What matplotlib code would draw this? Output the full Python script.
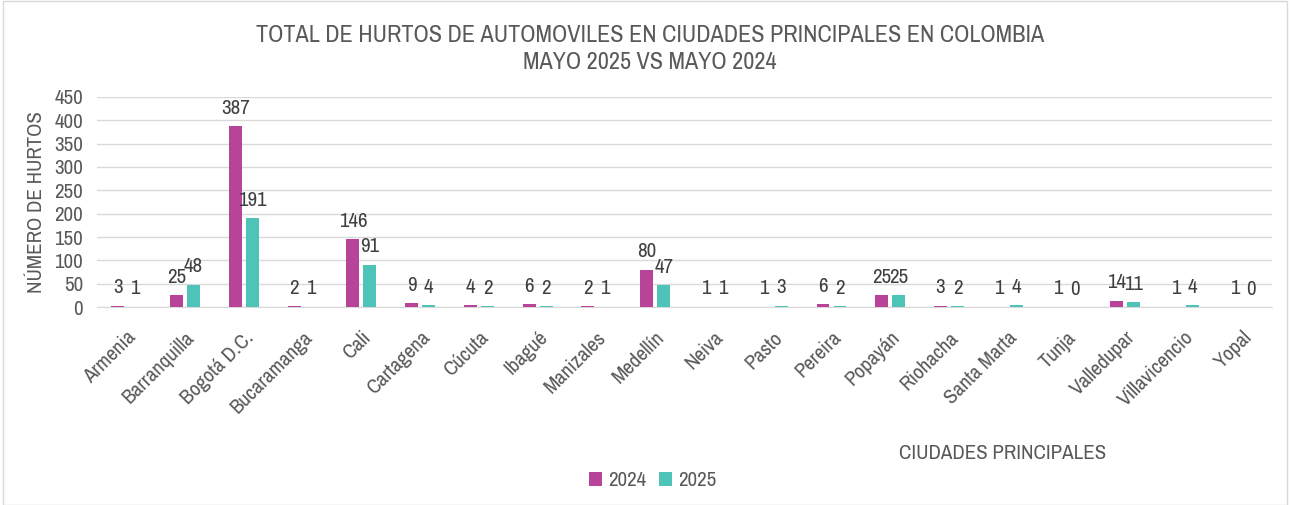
import matplotlib
matplotlib.use("Agg")
import matplotlib.pyplot as plt
import numpy as np
from matplotlib import font_manager
from matplotlib.patches import Rectangle

ciudades = ["Armenia", "Barranquilla", "Bogotá D.C.", "Bucaramanga", "Cali", "Cartagena",
            "Cúcuta", "Ibagué", "Manizales", "Medellín", "Neiva", "Pasto", "Pereira",
            "Popayán", "Riohacha", "Santa Marta", "Tunja", "Valledupar", "Villavicencio", "Yopal"]
hurtos_2024 = [3, 25, 387, 2, 146, 9, 4, 6, 2, 80, 1, 1, 6, 25, 3, 1, 1, 14, 1, 1]
hurtos_2025 = [1, 48, 191, 1, 91, 4, 2, 2, 1, 47, 1, 3, 2, 25, 2, 4, 0, 11, 4, 0]
y_ticks = [0, 50, 100, 150, 200, 250, 300, 350, 400, 450]

GRIS = "#595959"
C24 = "#B8449A"
C25 = "#4EC4B9"

# use a narrow font if there is one, the original looks like Arial Narrow
narrow = [f.name for f in font_manager.fontManager.ttflist
          if "Narrow" in f.name or "Condensed" in f.name]
fams = ['Liberation Sans', 'DejaVu Sans']
if narrow:
    fams = [sorted(narrow)[0]] + fams
plt.rcParams['font.family'] = fams
k = 1.16 if narrow else 0.93

fig = plt.figure(figsize=(12.9, 5.05), dpi=100)
ax = fig.add_axes([0.0752, 0.392, 0.911, 0.416])

x = np.arange(len(ciudades))
w = 0.22
off = 0.145
b1 = ax.bar(x - off, hurtos_2024, w, color=C24, label="2024", zorder=3)
b2 = ax.bar(x + off, hurtos_2025, w, color=C25, label="2025", zorder=3)

for bars in (b1, b2):
    for r in bars:
        h = r.get_height()
        ax.annotate(str(int(h)), (r.get_x() + r.get_width() / 2, h), xytext=(0, 6),
                    textcoords="offset points", ha="center", va="bottom",
                    fontsize=13 * k, color="#404040")

ax.set_xlim(-0.5, len(ciudades) - 0.5)
ax.set_ylim(0, 450)
ax.set_yticks(y_ticks)
ax.yaxis.grid(True, color="#d9d9d9", linewidth=1, zorder=0)
ax.set_axisbelow(True)
for s in ["top", "right", "left"]:
    ax.spines[s].set_visible(False)
ax.spines["bottom"].set_color("#d9d9d9")
ax.tick_params(axis="both", length=0, colors=GRIS, labelsize=13 * k)
ax.tick_params(axis="y", pad=10)
ax.set_xticks(x)
ax.set_xticklabels(ciudades, rotation=45, ha="right", rotation_mode="anchor")
ax.tick_params(axis="x", pad=15)

ax.set_ylabel("NÚMERO DE HURTOS", fontsize=13 * k, color=GRIS, labelpad=6)
fig.text(0.777, 0.101, "CIUDADES PRINCIPALES", fontsize=13 * k, color=GRIS, ha="center", va="center")

fig.text(0.504, 0.93, "TOTAL DE HURTOS DE AUTOMOVILES EN CIUDADES PRINCIPALES EN COLOMBIA",
         fontsize=15 * k, color=GRIS, ha="center", va="center")
fig.text(0.504, 0.877, "MAYO 2025 VS MAYO 2024", fontsize=15 * k, color=GRIS, ha="center", va="center")

leg = fig.legend(loc="center", bbox_to_anchor=(0.506, 0.048), ncol=2, frameon=False,
                 fontsize=13 * k, handlelength=0.6, handleheight=0.6, handletextpad=0.3,
                 columnspacing=0.6)
for t in leg.get_texts():
    t.set_color(GRIS)

fig.patches.append(Rectangle((0.002, 0.0), 0.996, 0.998, transform=fig.transFigure,
                             fill=False, edgecolor="#d9d9d9", linewidth=1))

fig.savefig("out.png", dpi=100)
